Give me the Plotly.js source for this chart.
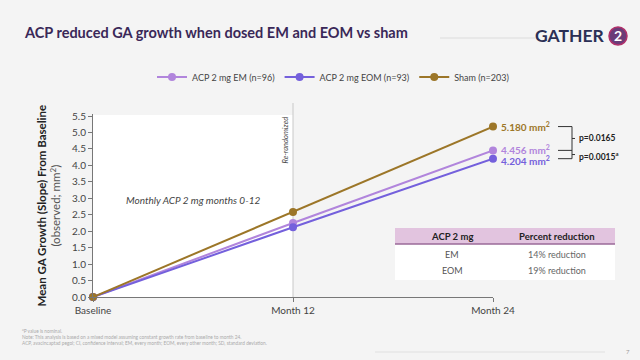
<!DOCTYPE html>
<html><head><meta charset="utf-8">
<script src="https://cdn.plot.ly/plotly-3.0.1.min.js"></script>
<style>html,body{margin:0;padding:0;background:#f4f4f4;}#chart{width:640px;height:360px;}</style>
</head><body><div id="chart"></div>
<script>
const timepoints = [0, 12, 24];
const tickLabels = ['Baseline', 'Month 12', 'Month 24'];
const seriesNames = ['ACP 2 mg EM (n=96)', 'ACP 2 mg EOM (n=93)', 'Sham (n=203)'];
const emValues = [0, 2.25, 4.456];
const eomValues = [0, 2.12, 4.204];
const shamValues = [0, 2.58, 5.180];
const endLabels = ['4.456', '4.204', '5.180'];
const pValues = ['p=0.0165', 'p=0.0015<sup>a</sup>'];
const tableHeader = ['ACP 2 mg', 'Percent reduction'];
const tableGroups = ['EM', 'EOM'];
const tableReductions = ['14% reduction', '19% reduction'];

const colors = ['#b185dc', '#7460dc', '#9c7628'];
const FONT = 'Lato, "Open Sans", sans-serif';
const W = 640, H = 360;
const px = v => v / W;
const py = v => 1 - v / H;

const allSeries = [emValues, eomValues, shamValues];
const traces = allSeries.map((vals, i) => ({
  type: 'scatter', mode: 'lines+markers', x: timepoints, y: vals, name: seriesNames[i],
  line: {color: colors[i], width: 2}, marker: {color: colors[i], size: 8},
  cliponaxis: false
}));

const annotations = [];
function note(x, y, text, font, extra) {
  annotations.push(Object.assign({x: px(x), y: py(y), xref: 'paper', yref: 'paper', xanchor: 'center', yanchor: 'middle',
    showarrow: false, text: text, font: font}, extra || {}));
}
// end-point labels
const labelShift = [1, -2, 0];
allSeries.forEach((vals, i) => {
  annotations.push({x: timepoints[2], y: vals[2], xref: 'x', yref: 'y', xanchor: 'left', yanchor: 'middle',
    xshift: 6, yshift: labelShift[i], showarrow: false, text: '<b>' + endLabels[i] + ' mm<sup>2</sup></b>',
    font: {family: FONT, size: 10, color: colors[i]}});
});
annotations.push({x: px(577), y: (shamValues[2] + emValues[2]) / 2, xref: 'paper', yref: 'y', xanchor: 'left', yanchor: 'middle',
  showarrow: false, text: '<b>' + pValues[0] + '</b>', font: {family: FONT, size: 8.5, color: '#222'}});
annotations.push({x: px(577), y: (emValues[2] + eomValues[2]) / 2 - 0.04, xref: 'paper', yref: 'y', xanchor: 'left', yanchor: 'middle',
  showarrow: false, text: '<b>' + pValues[1] + '</b>', font: {family: FONT, size: 8.5, color: '#222'}});
annotations.push({x: 6, y: 2.95, xref: 'x', yref: 'y', xanchor: 'center', yanchor: 'middle', showarrow: false,
  text: '<i>Monthly ACP 2 mg months 0-12</i>', font: {family: FONT, size: 10, color: '#444'}});
annotations.push({x: 12, y: py(140), xref: 'x', yref: 'paper', xanchor: 'right', yanchor: 'middle', xshift: -1, showarrow: false,
  textangle: -90, text: '<i>Re-randomized</i>', font: {family: FONT, size: 7.5, color: '#444'}});
// title
note(22, 32, '<b>ACP reduced GA growth when dosed EM and EOM vs sham</b>', {family: FONT, size: 14.5, color: '#3a2858'}, {xanchor: 'left'});
// logo
note(607, 36, '<b>GATHER</b>', {family: FONT, size: 17.5, color: '#2b2f55'}, {xanchor: 'right'});
note(618, 36, '<b>2</b>', {family: FONT, size: 14, color: '#ffffff'});
// table text
const colX = [452, 557];
tableHeader.forEach((t, i) => note(colX[i], 236, '<b>' + t + '</b>', {family: FONT, size: 9.5, color: '#222'}));
const rowY = [254, 270];
tableGroups.forEach((t, r) => {
  note(colX[0], rowY[r], t, {family: FONT, size: 9, color: '#555'});
  note(colX[1], rowY[r], tableReductions[r], {family: FONT, size: 9, color: '#666'});
});
// footer
note(20, 337, '<sup>a</sup>P value is nominal.<br>Note: This analysis is based on a mixed model assuming constant growth rate from baseline to month 24.<br>ACP, avacincaptad pegol; CI, confidence interval; EM, every month; EOM, every other month; SD, standard deviation.',
  {family: FONT, size: 4.8, color: '#aaa'}, {xanchor: 'left', align: 'left'});
note(628, 351, '7', {family: FONT, size: 6, color: '#999'});

const xb = px(572);
const bl = {color: '#333', width: 1};
const midTop = (shamValues[2] + emValues[2]) / 2;
const midBot = (emValues[2] + eomValues[2]) / 2;
const shapes = [
  {type: 'rect', xref: 'x', yref: 'paper', x0: 0, x1: 12, y0: py(297), y1: py(115), fillcolor: '#ffffff', line: {width: 0}, layer: 'below'},
  {type: 'line', xref: 'x', yref: 'paper', x0: 12, x1: 12, y0: py(297), y1: py(103), line: {color: '#c8c8c8', width: 1}, layer: 'below'},
  // brackets
  {type: 'line', xref: 'paper', yref: 'y', x0: px(558), x1: xb, y0: shamValues[2], y1: shamValues[2], line: bl},
  {type: 'line', xref: 'paper', yref: 'y', x0: px(558), x1: xb, y0: emValues[2], y1: emValues[2], line: bl},
  {type: 'line', xref: 'paper', yref: 'y', x0: px(558), x1: xb, y0: eomValues[2], y1: eomValues[2], line: bl},
  {type: 'line', xref: 'paper', yref: 'y', x0: xb, x1: xb, y0: shamValues[2], y1: eomValues[2], line: bl},
  {type: 'line', xref: 'paper', yref: 'y', x0: xb, x1: px(575), y0: midTop, y1: midTop, line: bl},
  {type: 'line', xref: 'paper', yref: 'y', x0: xb, x1: px(575), y0: midBot, y1: midBot, line: bl},
  // table
  {type: 'rect', xref: 'paper', yref: 'paper', x0: px(395), x1: px(615), y0: py(244), y1: py(228), fillcolor: '#e2c4df', line: {width: 0}},
  {type: 'rect', xref: 'paper', yref: 'paper', x0: px(395), x1: px(615), y0: py(280), y1: py(244), fillcolor: '#ffffff', line: {width: 0}},
  {type: 'line', xref: 'paper', yref: 'paper', x0: px(395), x1: px(615), y0: py(244), y1: py(244), line: {color: '#9a6a98', width: 1.5}},
  // header decorations
  {type: 'line', xref: 'paper', yref: 'paper', x0: px(440), x1: px(535), y0: py(38), y1: py(38), line: {color: '#dcdcdc', width: 1}},
  {type: 'circle', xref: 'paper', yref: 'paper', x0: px(609), x1: px(627), y0: py(45), y1: py(27), fillcolor: '#6a3c78', line: {color: '#b0306a', width: 1.5}},
  {type: 'line', xref: 'paper', yref: 'paper', x0: px(375), x1: px(605), y0: py(352), y1: py(352), line: {color: '#e0e0e0', width: 1}}
];

const layout = {
  width: W, height: H, margin: {l: 0, r: 0, t: 0, b: 0},
  paper_bgcolor: '#f4f4f4', plot_bgcolor: 'rgba(0,0,0,0)',
  font: {family: FONT, color: '#555'},
  showlegend: true,
  legend: {orientation: 'h', x: px(333), xanchor: 'center', y: py(77), yanchor: 'middle',
    font: {family: FONT, size: 9, color: '#444'}, bgcolor: 'rgba(0,0,0,0)', itemwidth: 30},
  xaxis: {domain: [px(93), px(493)], range: [0, 24], tickvals: timepoints, ticktext: tickLabels,
    showgrid: false, zeroline: false, showline: true, linecolor: '#777', linewidth: 1,
    ticks: 'outside', ticklen: 4, tickcolor: '#777', tickfont: {family: FONT, size: 10, color: '#444'}},
  yaxis: {domain: [py(297), py(114.4)], range: [0, 5.55], dtick: 0.5, tickformat: '.1f',
    showgrid: false, zeroline: false, showline: true, linecolor: '#777', linewidth: 1,
    ticks: 'outside', ticklen: 4, tickcolor: '#777', tickfont: {family: FONT, size: 10, color: '#444'},
    title: {text: '<b>Mean GA Growth (Slope) From Baseline</b><br><span style="color:#555">(observed; mm<sup>2</sup>)</span>',
      font: {family: FONT, size: 11.5, color: '#222'}, standoff: 8}},
  annotations: annotations, shapes: shapes
};

Plotly.newPlot('chart', traces, layout, {displayModeBar: false, staticPlot: true});
</script></body></html>
